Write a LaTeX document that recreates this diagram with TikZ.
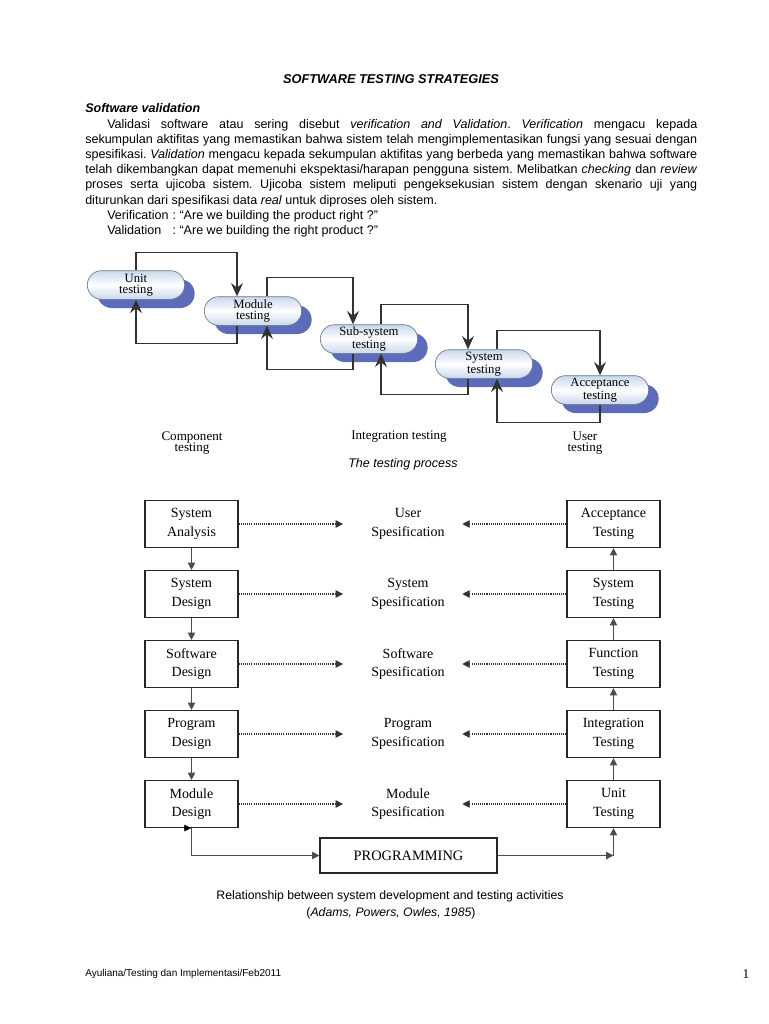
\documentclass[tikz,border=0pt]{standalone}
\usepackage{fontspec}
\setmainfont{Liberation Sans}
\newfontfamily\serifx{Liberation Serif}
\usetikzlibrary{arrows.meta,shapes.misc,shadows}
\definecolor{shadowblue}{RGB}{92,108,186}
\definecolor{pilltop}{RGB}{200,215,235}
\definecolor{pillborder}{RGB}{110,120,135}
\definecolor{linegray}{RGB}{50,50,50}
\frenchspacing
\begin{document}
\begin{tikzpicture}[x=0.75pt,y=-0.75pt,
  pill/.style={rounded rectangle, draw=pillborder, line width=0.5pt,
    top color=pilltop, bottom color=pilltop, middle color=white,
    minimum width=73pt, minimum height=21.5pt, inner sep=0pt, align=center,
    font=\serifx\fontsize{9.5}{8.2}\selectfont,
    drop shadow={shadow xshift=7.5pt, shadow yshift=-6.5pt, fill=shadowblue, opacity=1}},
  plabel/.style={align=center, inner sep=0pt, font=\serifx\fontsize{9.8}{8.6}\selectfont},
  tline/.style={draw=linegray, line width=1.1pt, -{Stealth[length=10pt,width=9pt,inset=3.5pt]}},
  box/.style={draw=black!85, line width=0.85pt, minimum width=69.75pt, minimum height=35.25pt,
    inner sep=0pt, align=center, font=\serifx\fontsize{10.5}{14}\selectfont},
  spec/.style={text width=89pt, align=center, inner sep=0pt, font=\serifx\fontsize{10.5}{14}\selectfont},
  varrow/.style={draw=black!70, line width=0.85pt, -{Triangle[length=5.5pt,width=5.5pt]}},
  darrow/.style={draw=black!80, line width=0.8pt, dash pattern=on 0.8pt off 0.8pt, -{Triangle[length=5.5pt,width=5.5pt]}},
]
\fill[white] (0,0) rectangle (768,1024);
\useasboundingbox (0,0) rectangle (768,1024);

% ---------- header text ----------
\node[anchor=base, inner sep=0pt, font=\bfseries\itshape\fontsize{9.6}{11}\selectfont] (title) at (391,84) {SOFTWARE TESTING STRATEGIES};

\node[anchor=base west, inner sep=0pt] (para) at (85,113) {\begin{minipage}[t]{459pt}\fontsize{9.4}{11.4}\selectfont
\parindent=0pt\parskip=0pt
\textbf{\textit{Software validation}}\par
\hspace*{16.5pt}Validasi software atau sering disebut \textit{verification and Validation}. \textit{Verification} mengacu kepada\linebreak
sekumpulan aktifitas yang memastikan bahwa sistem telah mengimplementasikan fungsi yang sesuai dengan\linebreak
spesifikasi. \textit{Validation} mengacu kepada sekumpulan aktifitas yang berbeda yang memastikan bahwa software\linebreak
telah dikembangkan dapat memenuhi ekspektasi/harapan pengguna sistem. Melibatkan \textit{checking} dan \textit{review}\linebreak
proses serta ujicoba sistem. Ujicoba sistem meliputi pengeksekusian sistem dengan skenario uji yang\linebreak
diturunkan dari spesifikasi data \textit{real} untuk diproses oleh sistem.\par
\hspace*{16.5pt}\makebox[49pt][l]{Verification}: “Are we building the product right ?”\par
\hspace*{16.5pt}\makebox[49pt][l]{Validation}: “Are we building the right product ?”
\end{minipage}};

% ---------- testing process ----------
\node[pill] (unit) at (136,285) {Unit\\testing};
\node[pill] (module) at (253,311) {Module\\testing};
\node[pill] (sub) at (369,339) {Sub-system\\testing};
\node[pill] (sys) at (484,364) {System\\testing};
\node[pill] (acc) at (600,390) {Acceptance\\testing};

\draw[tline] (unit.north) -- ++(0,-18) -| ([xshift=-12pt]module.north);
\draw[tline] ([xshift=-12pt]module.south) -- ++(0,18) -| (unit.south);
\draw[tline] ([xshift=10.5pt]module.north) -- ++(0,-19) -| ([xshift=-12pt]sub.north);
\draw[tline] ([xshift=-12pt]sub.south) -- ++(0,16) -| ([xshift=10.5pt]module.south);
\draw[tline] ([xshift=9pt]sub.north) -- ++(0,-20) -| ([xshift=-12pt]sys.north);
\draw[tline] ([xshift=-12pt]sys.south) -- ++(0,16) -| ([xshift=9pt]sub.south);
\draw[tline] ([xshift=9.75pt]sys.north) -- ++(0,-19) -| (acc.north);
\draw[tline] (acc.south) -- ++(0,18) -| ([xshift=9.75pt]sys.south);

\node[plabel] (lcomp) at (192,443) {Component\\testing};
\node[plabel] (lint) at (399,437) {Integration testing};
\node[plabel] (luser) at (585,443) {User\\testing};
\node[inner sep=0pt, font=\itshape\fontsize{9.4}{11}\selectfont] (cap1) at (403,464) {The testing process};

% ---------- development / testing relationship ----------
\node[box] (sa) at (191.5,524) {System\\Analysis};
\node[box] (sd) at (191.5,594) {System\\Design};
\node[box] (swd) at (191.5,664) {Software\\Design};
\node[box] (pd) at (191.5,734) {Program\\Design};
\node[box] (md) at (191.5,804) {Module\\Design};

\node[spec] (us) at (408,524) {User\\Spesification};
\node[spec] (ss) at (408,594) {System\\Spesification};
\node[spec] (sws) at (408,664) {Software\\Spesification};
\node[spec] (ps) at (408,734) {Program\\Spesification};
\node[spec] (ms) at (408,804) {Module\\Spesification};

\node[box] (at) at (613.5,524) {Acceptance\\Testing};
\node[box] (st) at (613.5,594) {System\\Testing};
\node[box] (ft) at (613.5,664) {Function\\Testing};
\node[box] (it) at (613.5,734) {Integration\\Testing};
\node[box] (ut) at (613.5,804) {Unit\\Testing};

\node[box, minimum width=132.75pt, minimum height=26.25pt, font=\serifx\fontsize{10.8}{12}\selectfont] (prog) at (408.5,855.5) {PROGRAMMING};

\foreach \a/\b in {sa/us, sd/ss, swd/sws, pd/ps, md/ms}
  \draw[darrow] (\a.east) -- ([xshift=-4pt]\b.west);
\foreach \a/\b in {at/us, st/ss, ft/sws, it/ps, ut/ms}
  \draw[darrow] (\a.west) -- ([xshift=-4pt]\b.east);

\foreach \a/\b in {sa/sd, sd/swd, swd/pd, pd/md}
  \draw[varrow] (\a.south) -- (\b.north);
\foreach \a/\b in {ut/it, it/ft, ft/st, st/at}
  \draw[varrow] (\a.north) -- (\b.south);

\draw[varrow] (md.south) |- (prog.west);
\draw[-{Triangle[length=5pt,width=5pt]}, black] ([xshift=-4.5pt]md.south) -- ([xshift=-0.4pt]md.south);
\draw[varrow] (prog.east) -- (ut.south |- prog.east);
\draw[varrow] (ut.south |- prog.east) -- (ut.south);

\node[anchor=base, inner sep=0pt, font=\fontsize{9.2}{11}\selectfont] (cap2) at (390,899) {Relationship between system development and testing activities};
\node[anchor=base, inner sep=0pt, font=\fontsize{9.2}{11}\selectfont] (cap3) at (391,916) {(\textit{Adams, Powers, Owles, 1985})};

% ---------- footer ----------
\node[anchor=base west, inner sep=0pt, font=\fontsize{7.5}{9}\selectfont] (foot) at (85,976) {Ayuliana/Testing dan Implementasi/Feb2011};
\node[anchor=base, inner sep=0pt, font=\serifx\fontsize{10}{12}\selectfont] (page) at (746,978) {1};
\end{tikzpicture}
\end{document}
